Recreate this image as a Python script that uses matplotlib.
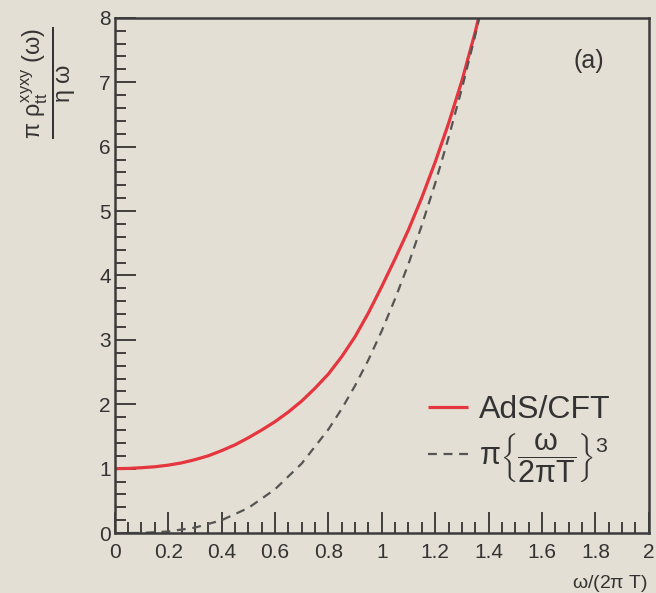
import matplotlib
matplotlib.use("Agg")
import matplotlib.pyplot as plt
from matplotlib.ticker import MultipleLocator

plt.rcParams['font.family'] = ['Liberation Sans', 'DejaVu Sans']
plt.rcParams['mathtext.fontset'] = 'custom'
plt.rcParams['mathtext.rm'] = 'Liberation Sans'
plt.rcParams['mathtext.it'] = 'Liberation Sans'

# AdS/CFT curve
ads_x = [0.0, 0.05, 0.1, 0.15, 0.2, 0.25, 0.3, 0.35, 0.4, 0.45, 0.5, 0.55, 0.6, 0.65,
         0.7, 0.75, 0.8, 0.85, 0.9, 0.95, 1.0, 1.05, 1.1, 1.15, 1.2, 1.25, 1.3, 1.35, 1.4]
ads_y = [1.00, 1.004, 1.015, 1.03, 1.055, 1.09, 1.14, 1.20, 1.28, 1.37, 1.48, 1.60, 1.73, 1.88,
         2.05, 2.25, 2.47, 2.74, 3.05, 3.42, 3.83, 4.26, 4.71, 5.21, 5.76, 6.36, 7.02, 7.78, 8.64]

# pi (omega / 2 pi T)^3 curve
cub_x = [0.0, 0.1, 0.2, 0.3, 0.4, 0.5, 0.6, 0.7, 0.8, 0.85, 0.9, 0.95, 1.0, 1.05, 1.1,
         1.15, 1.2, 1.25, 1.3, 1.35, 1.4]
cub_y = [0.0, 0.003, 0.025, 0.085, 0.20, 0.39, 0.68, 1.08, 1.61, 1.93, 2.29, 2.69, 3.14, 3.64, 4.18,
         4.78, 5.43, 6.14, 6.90, 7.73, 8.62]

x_ticks = [0, 0.2, 0.4, 0.6, 0.8, 1, 1.2, 1.4, 1.6, 1.8, 2]
x_tick_labels = ['0', '0.2', '0.4', '0.6', '0.8', '1', '1.2', '1.4', '1.6', '1.8', '2']
y_ticks = [0, 1, 2, 3, 4, 5, 6, 7, 8]

bg = '#e4dfd4'
ink = '#333333'
fig = plt.figure(figsize=(6.56, 5.93), dpi=100, facecolor=bg)
ax = fig.add_axes([0.175, 0.101, 0.814, 0.869], facecolor=bg)

red, = ax.plot(ads_x, ads_y, color='#e5353e', lw=2.3, solid_capstyle='butt')
dash, = ax.plot(cub_x, cub_y, color='#555555', lw=1.6, dashes=(4, 3))

ax.set_xlim(0, 2)
ax.set_ylim(0, 8)
ax.set_xticks(x_ticks)
ax.set_xticklabels(x_tick_labels)
ax.set_yticks(y_ticks)
ax.xaxis.set_minor_locator(MultipleLocator(0.05))
ax.yaxis.set_minor_locator(MultipleLocator(0.2))
ax.tick_params(which='both', direction='in', top=False, right=False,
               color=ink, width=1.3)
ax.tick_params(which='major', length=15, labelsize=15, colors=ink)
ax.tick_params(which='minor', length=8)
ax.tick_params(axis='x', pad=7)
ax.tick_params(axis='y', pad=3)
for s in ax.spines.values():
    s.set_color('#3c3c3c')
    s.set_linewidth(1.8)

ax.text(0.887, 0.917, '(a)', transform=ax.transAxes, fontsize=18,
        color=ink, ha='center', va='center')

fig.text(0.988, 1 - 573 / 593, r'$\omega$/(2$\pi$ T)', fontsize=14, ha='right',
         va='top', color=ink)
fig.text(0.075, 0.86,
         r'$\frac{\pi\ \rho^{xyxy}_{tt}\ (\omega)}{\eta\ \omega}$',
         rotation=90, fontsize=24, ha='center', va='center', color=ink)

leg = ax.legend([red, dash], ['AdS/CFT', r'$\pi\left\{\dfrac{\omega}{2\pi T}\right\}^3$'],
                loc='lower left', bbox_to_anchor=(0.532, 0.037), frameon=False,
                fontsize=23, handlelength=1.25, handletextpad=0.35,
                labelspacing=0.2, labelcolor=ink)
leg.get_texts()[1].set_fontsize(22)

fig.savefig('out.png', dpi=100, facecolor=bg)
